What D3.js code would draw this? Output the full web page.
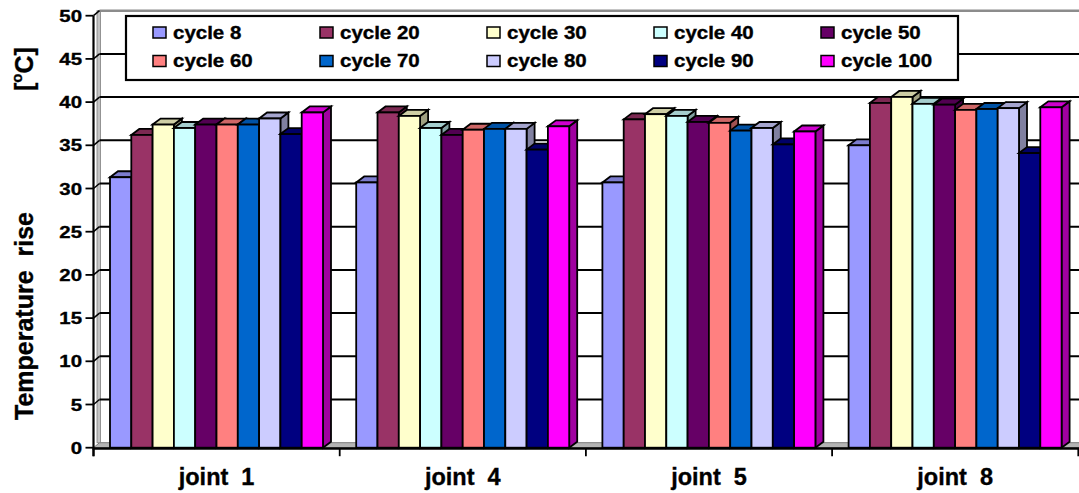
<!DOCTYPE html>
<html>
<head>
<meta charset="utf-8">
<script src="https://cdn.jsdelivr.net/npm/d3@7"></script>
<style>
  html, body { margin: 0; padding: 0; background: #fff; }
  svg { display: block; }
  text { font-family: "Liberation Sans", Arial, sans-serif; font-weight: bold; fill: #000;
         stroke: #000; stroke-width: 0.35px; }
</style>
</head>
<body>
<svg id="chart" width="1079" height="493"></svg>
<script>
// Categories and series
const joints = ["joint  1", "joint  4", "joint  5", "joint  8"];
const cycles = ["cycle 8", "cycle 20", "cycle 30", "cycle 40", "cycle 50",
                "cycle 60", "cycle 70", "cycle 80", "cycle 90", "cycle 100"];
const cycleColors = ["#9999FF", "#993366", "#FFFFCC", "#CCFFFF", "#660066",
                     "#FF8080", "#0066CC", "#CCCCFF", "#000080", "#FF00FF"];

// Temperature rise per joint, one value per cycle (same order as `cycles`)
const joint1Rise = [31.3, 36.2, 37.4, 37.0, 37.4, 37.4, 37.4, 38.1, 36.3, 38.8];
const joint4Rise = [30.7, 38.8, 38.4, 37.0, 36.2, 36.8, 36.9, 36.9, 34.5, 37.2];
const joint5Rise = [30.7, 38.0, 38.6, 38.4, 37.7, 37.6, 36.7, 37.0, 35.1, 36.6];
const joint8Rise = [35.0, 39.9, 40.6, 39.8, 39.7, 39.1, 39.2, 39.3, 34.1, 39.4];

const yTicks = [0, 5, 10, 15, 20, 25, 30, 35, 40, 45, 50];

const riseByJoint = [joint1Rise, joint4Rise, joint5Rise, joint8Rise];
const rows = joints.map((j, i) => ({
  joint: j,
  values: cycles.map((c, k) => ({ cycle: c, value: riseByJoint[i][k], color: cycleColors[k] }))
}));

const svg = d3.select("#chart");
const W = 1079;

// Scales
const y = d3.scaleLinear().domain([0, 50]).range([447.7, 15.7]);
const x = d3.scaleBand().domain(joints).range([93.5, 1078.3]).padding(0);
const xi = d3.scaleBand().domain(cycles).range([16.5, 229.5]).padding(0);

// 3D depth offsets (walls and bars)
const wdx = 6, wdy = 5;
const bdx = 8, bdy = 6;

const axisX = x.range()[0];
const y0 = y(0);

// Horizontally stretched text helper
function sText(parent, str, tx, ty, size, sx, anchor) {
  return parent.append("text")
    .attr("transform", `translate(${tx},${ty}) scale(${sx},1)`)
    .attr("text-anchor", anchor)
    .style("font-size", size + "px")
    .text(str);
}

// ---- Walls and floor ----
const walls = svg.append("g");

// floor
walls.append("polygon")
  .attr("points", [[axisX, y0], [axisX + wdx, y0 - wdy], [W + 10, y0 - wdy], [W + 10, y0]].join(" "))
  .attr("fill", "#b4b4b4").attr("stroke", "#7a7a7a").attr("stroke-width", 1);

// left wall edge
walls.append("rect")
  .attr("x", axisX + wdx - 2.5).attr("y", y(50) - wdy)
  .attr("width", 3.5).attr("height", y0 - y(50))
  .attr("fill", "#c4c4c4").attr("stroke", "#808080").attr("stroke-width", 0.8);

// top edge of the back wall
walls.append("line")
  .attr("x1", axisX + wdx).attr("x2", W)
  .attr("y1", y(50) - wdy).attr("y2", y(50) - wdy)
  .attr("stroke", "#8c8c8c").attr("stroke-width", 2.5);
walls.append("line")
  .attr("x1", axisX).attr("y1", y(50)).attr("x2", axisX + wdx).attr("y2", y(50) - wdy)
  .attr("stroke", "#000").attr("stroke-width", 1.5);

// gridlines on the back wall plus the short diagonal from each tick
const gridVals = yTicks.filter(v => v > 0 && v < 50);
walls.selectAll(".grid").data(gridVals).join("line")
  .attr("x1", axisX + wdx).attr("x2", W)
  .attr("y1", d => y(d) - wdy).attr("y2", d => y(d) - wdy)
  .attr("stroke", "#000").attr("stroke-width", 2);
walls.selectAll(".diag").data(gridVals).join("line")
  .attr("x1", axisX).attr("y1", d => y(d))
  .attr("x2", axisX + wdx).attr("y2", d => y(d) - wdy)
  .attr("stroke", "#000").attr("stroke-width", 1.5);

// ---- 3D bars ----
const bars = svg.append("g").attr("stroke", "#000").attr("stroke-width", 1.8).attr("stroke-linejoin", "miter");
rows.forEach(row => {
  row.values.forEach(d => {
    const x0 = x(row.joint) + xi(d.cycle);
    const w = xi.bandwidth();
    const yt = y(d.value);
    const base = d3.color(d.color);
    const g = bars.append("g");
    g.append("polygon")
      .attr("points", [[x0 + w, yt], [x0 + w + bdx, yt - bdy], [x0 + w + bdx, y0 - bdy], [x0 + w, y0]].join(" "))
      .attr("fill", base.darker(1.3).formatHex());
    g.append("polygon")
      .attr("points", [[x0, yt], [x0 + bdx, yt - bdy], [x0 + w + bdx, yt - bdy], [x0 + w, yt]].join(" "))
      .attr("fill", base.darker(0.6).formatHex());
    g.append("rect")
      .attr("x", x0).attr("y", yt).attr("width", w).attr("height", y0 - yt)
      .attr("fill", d.color);
  });
});

// ---- Axes ----
const axes = svg.append("g");
axes.append("line")
  .attr("x1", axisX).attr("x2", axisX).attr("y1", y(50)).attr("y2", y0 + 8.5)
  .attr("stroke", "#000").attr("stroke-width", 2.2);
axes.append("line")
  .attr("x1", axisX - 1).attr("x2", W).attr("y1", y0 + 0.8).attr("y2", y0 + 0.8)
  .attr("stroke", "#000").attr("stroke-width", 2.4);

// y ticks
axes.selectAll(".ytick").data(yTicks).join("line")
  .attr("x1", axisX - 8).attr("x2", axisX)
  .attr("y1", d => y(d)).attr("y2", d => y(d))
  .attr("stroke", "#000").attr("stroke-width", 1.8);
yTicks.forEach(v => {
  sText(axes, String(v), 82, y(v) + 6.1, 17, 1.2, "end");
});

// x ticks at category boundaries
const bounds = joints.map(j => x(j)).concat([x.range()[1]]);
axes.selectAll(".xtick").data(bounds).join("line")
  .attr("x1", d => d).attr("x2", d => d)
  .attr("y1", y0 + 1).attr("y2", y0 + 8.5)
  .attr("stroke", "#000").attr("stroke-width", 1.8);

// category labels
joints.forEach(j => {
  axes.append("text")
    .attr("x", x(j) + x.bandwidth() / 2).attr("y", 485)
    .attr("text-anchor", "middle")
    .style("font-size", "23.5px")
    .style("white-space", "pre")
    .attr("xml:space", "preserve")
    .text(j);
});

// y-axis title
const t1 = axes.append("text")
  .attr("transform", "translate(33,420) rotate(-90)")
  .style("font-size", "25px")
  .attr("xml:space", "preserve")
  .text("Temperature  rise");
const t2 = axes.append("text")
  .attr("transform", "translate(33,91) rotate(-90)")
  .style("font-size", "25px");
t2.append("tspan").text("[");
t2.append("tspan").attr("dy", -11).style("font-size", "15px").text("o");
t2.append("tspan").attr("dy", 11).text("C]");

// ---- Legend ----
const legend = svg.append("g");
legend.append("rect")
  .attr("x", 126).attr("y", 16).attr("width", 832).attr("height", 64)
  .attr("fill", "#fff").attr("stroke", "#000").attr("stroke-width", 2.2);
const legCols = 5, colStep = 167, legX0 = 153, rowY = [32.5, 61];
cycles.forEach((c, i) => {
  const col = i % legCols, row = Math.floor(i / legCols);
  const sx = legX0 + col * colStep;
  const cy = rowY[row];
  legend.append("rect")
    .attr("x", sx).attr("y", cy - 5.5).attr("width", 13).attr("height", 11)
    .attr("fill", cycleColors[i]).attr("stroke", "#000").attr("stroke-width", 1.5);
  sText(legend, c, sx + 20, cy + 6.3, 17.5, 1.17, "start");
});
</script>
</body>
</html>
